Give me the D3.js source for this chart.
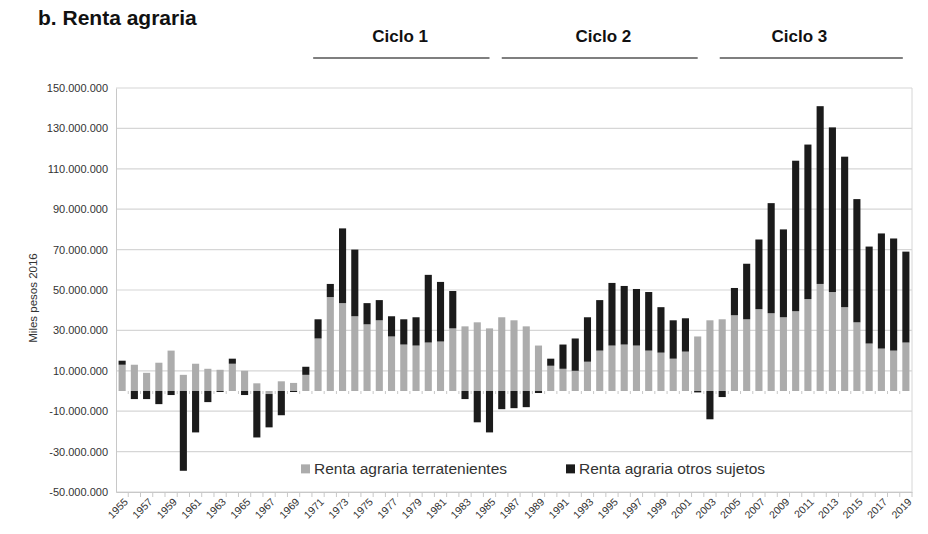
<!DOCTYPE html>
<html>
<head>
<meta charset="utf-8">
<script src="https://cdn.jsdelivr.net/npm/d3@7"></script>
<style>
  body { margin: 0; background: #fff; }
  svg { display: block; font-family: "Liberation Sans", Arial, sans-serif; }
</style>
</head>
<body>
<div id="chart"></div>
<script>
// years 1955 - 2019
const years = d3.range(1955, 2020);

// Renta agraria terratenientes (millones, miles pesos 2016)
const terratenientes = [
  13, 13, 9, 14, 20, 8, 13.5, 11, 10.5, 13.5,
  10, 3.8, -1.5, 4.8, 4, 8, 26, 46.5, 43.5, 37,
  33, 35, 27, 23, 22.5, 24, 24.5, 31, 32, 34,
  31, 36.5, 35, 32, 22.5, 12.5, 11, 10, 14.5, 20,
  22.5, 23, 22.5, 20, 19, 16, 19.5, 27, 35, 35.5,
  37.5, 35.5, 40.5, 38.5, 36.5, 39.5, 45.5, 53, 49, 41.5,
  34, 23.5, 21, 20, 24
];

// Renta agraria otros sujetos
const otrosSujetos = [
  2, -4, -4, -6.5, -2, -39.5, -20.5, -5.5, -0.5, 2.5,
  -2, -23, -16.5, -12, -0.5, 4, 9.5, 6.5, 37, 33,
  10.5, 10, 10, 12.5, 14, 33.5, 29.5, 18.5, -4, -15.5,
  -20.5, -9, -8.5, -8, -1, 3.5, 12, 16, 22, 25,
  31, 29, 28, 29, 22.5, 19, 16.5, -0.7, -14, -3,
  13.5, 27.5, 34.5, 54.5, 43.5, 74.5, 76.5, 88, 81.5, 74.5,
  61, 48, 57, 55.5, 45
];

const seriesNames = ["Renta agraria terratenientes", "Renta agraria otros sujetos"];
const seriesColors = ["#acacac", "#1b1b1b"];
const yTicks = d3.range(-50e6, 150e6 + 1, 20e6);

const cycleLabels = ["Ciclo 1", "Ciclo 2", "Ciclo 3"];
const cycleFrom = [1970.6, 1986, 2003.8];
const cycleTo = [1985, 2002, 2018.75];
const cycleMid = [1977.7, 1994.3, 2010.3];

const width = 928, height = 534;
const margin = { top: 88, right: 16, bottom: 42, left: 116 };

const svg = d3.select("#chart").append("svg")
  .attr("width", width)
  .attr("height", height);

const rows = years.map((yr, i) => ({
  year: yr,
  terr: terratenientes[i] * 1e6,
  otros: otrosSujetos[i] * 1e6
}));

const stack = d3.stack()
  .keys(["terr", "otros"])
  .offset(d3.stackOffsetDiverging);
const layers = stack(rows);

const x = d3.scaleBand()
  .domain(years)
  .range([margin.left, width - margin.right])
  .paddingInner(0.42)
  .paddingOuter(0.21);
const bw = x.bandwidth();
const step = x.step();

// continuous year scale (bar centres), for the cycle brackets
const xc = d3.scaleLinear()
  .domain([1955, 2019])
  .range([x(1955) + bw / 2, x(2019) + bw / 2]);

const y = d3.scaleLinear()
  .domain([-50e6, 150e6])
  .range([height - margin.bottom, margin.top]);

const locale = d3.formatLocale({ decimal: ",", thousands: ".", grouping: [3], currency: ["$", ""], minus: "-" });
const fmt = locale.format(",d");

// gridlines
svg.append("g")
  .selectAll("line")
  .data(yTicks)
  .join("line")
  .attr("x1", margin.left)
  .attr("x2", width - margin.right)
  .attr("y1", d => y(d))
  .attr("y2", d => y(d))
  .attr("stroke", "#d6d6d6")
  .attr("stroke-width", 1.2);

// right border
svg.append("line")
  .attr("x1", width - margin.right).attr("x2", width - margin.right)
  .attr("y1", y(150e6)).attr("y2", y(-50e6))
  .attr("stroke", "#d6d6d6");

// y axis
const yAxis = svg.append("g")
  .attr("transform", `translate(${margin.left},0)`)
  .call(d3.axisLeft(y).tickValues(yTicks).tickFormat(fmt).tickSize(0).tickPadding(8));
yAxis.select(".domain").attr("stroke", "#c8c8c8");
yAxis.selectAll("text").attr("fill", "#333").attr("font-size", 11);

// bars
svg.append("g")
  .selectAll("g")
  .data(layers)
  .join("g")
  .attr("fill", (d, i) => seriesColors[i])
  .selectAll("rect")
  .data(d => d)
  .join("rect")
  .attr("x", d => x(d.data.year))
  .attr("width", bw)
  .attr("y", d => y(Math.max(d[0], d[1])))
  .attr("height", d => Math.abs(y(d[0]) - y(d[1])));

// small marks on the zero line between categories
svg.append("g")
  .selectAll("line")
  .data(years.slice(1))
  .join("line")
  .attr("x1", d => x(d) - (step - bw) / 2)
  .attr("x2", d => x(d) - (step - bw) / 2)
  .attr("y1", y(0)).attr("y2", y(0) + 3)
  .attr("stroke", "#c8c8c8");

// x axis at bottom
const xAxis = svg.append("g")
  .attr("transform", `translate(0,${y(-50e6)})`)
  .call(d3.axisBottom(x).tickValues(years).tickSize(0).tickFormat(d => (d - 1955) % 2 === 0 ? d : ""));
xAxis.select(".domain").attr("stroke", "#c8c8c8");
xAxis.selectAll(".tick").append("line")
  .attr("x1", step / 2).attr("x2", step / 2)
  .attr("y1", 0).attr("y2", 5)
  .attr("stroke", "#c8c8c8");
xAxis.selectAll("text")
  .attr("fill", "#333")
  .attr("font-size", 10.5)
  .attr("text-anchor", "end")
  .attr("transform", "translate(4,8) rotate(-45)")
  .attr("dy", "0.35em")
  .attr("y", 0)
  .attr("x", 0);

// y label
svg.append("text")
  .attr("transform", `translate(37,${(y(150e6) + y(-50e6)) / 2 + 8}) rotate(-90)`)
  .attr("text-anchor", "middle")
  .attr("font-size", 11.5)
  .attr("fill", "#333")
  .text("Miles pesos 2016");

// legend
const legendX = [301, 566];
const legend = svg.append("g")
  .selectAll("g")
  .data(seriesNames)
  .join("g")
  .attr("transform", (d, i) => `translate(${legendX[i]},${y(-38.3e6)})`);
legend.append("rect")
  .attr("x", 0).attr("y", -4)
  .attr("width", 9).attr("height", 9)
  .attr("fill", (d, i) => seriesColors[i]);
legend.append("text")
  .attr("x", 13).attr("dy", "0.38em")
  .attr("font-size", 15.5)
  .attr("fill", "#333")
  .text(d => d);

// title
svg.append("text")
  .attr("x", 38).attr("y", 25)
  .attr("font-size", 21)
  .attr("font-weight", "bold")
  .attr("fill", "#111")
  .text("b. Renta agraria");

// cycles
const cycles = svg.append("g")
  .selectAll("g")
  .data(cycleLabels)
  .join("g");
cycles.append("text")
  .attr("x", (d, i) => xc(cycleMid[i]))
  .attr("y", 42)
  .attr("text-anchor", "middle")
  .attr("font-size", 17)
  .attr("font-weight", "bold")
  .attr("fill", "#111")
  .text(d => d);
cycles.append("line")
  .attr("x1", (d, i) => xc(cycleFrom[i]))
  .attr("x2", (d, i) => xc(cycleTo[i]))
  .attr("y1", 58).attr("y2", 58)
  .attr("stroke", "#555")
  .attr("stroke-width", 1.5);
</script>
</body>
</html>
